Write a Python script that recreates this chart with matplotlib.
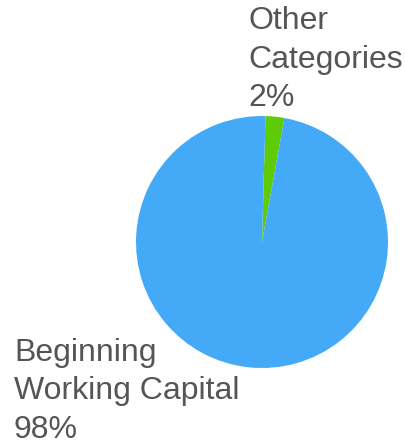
import matplotlib
matplotlib.use("Agg")
from matplotlib import pyplot as plt

categories = ["Other\nCategories", "Beginning\nWorking Capital"]
shares = [2.4, 97.6]
pct_labels = ["2%", "98%"]
colors = ["#5DCB06", "#44AAF8"]

plt.rcParams['font.family'] = ['Liberation Sans', 'DejaVu Sans']

fig = plt.figure(figsize=(4.05, 4.45), dpi=100)
ax = fig.add_axes([0.3358, 0.173, 0.6222, 0.5663])
ax.pie(shares, colors=colors, startangle=88.4, counterclock=False, radius=1.0)
ax.set_xlim(-1, 1)
ax.set_ylim(-1, 1)
ax.set_aspect("equal")
ax.axis("off")

# labels placed outside the pie like the source chart
fig.text(248 / 405, 1 - 6 / 445, f"{categories[0]}\n{pct_labels[0]}",
         ha="left", va="top", fontsize=23, color="#555555", linespacing=1.38)
fig.text(14 / 405, 1 - 338 / 445, f"{categories[1]}\n{pct_labels[1]}",
         ha="left", va="top", fontsize=23, color="#555555", linespacing=1.36)

fig.savefig("out.png", dpi=100)
